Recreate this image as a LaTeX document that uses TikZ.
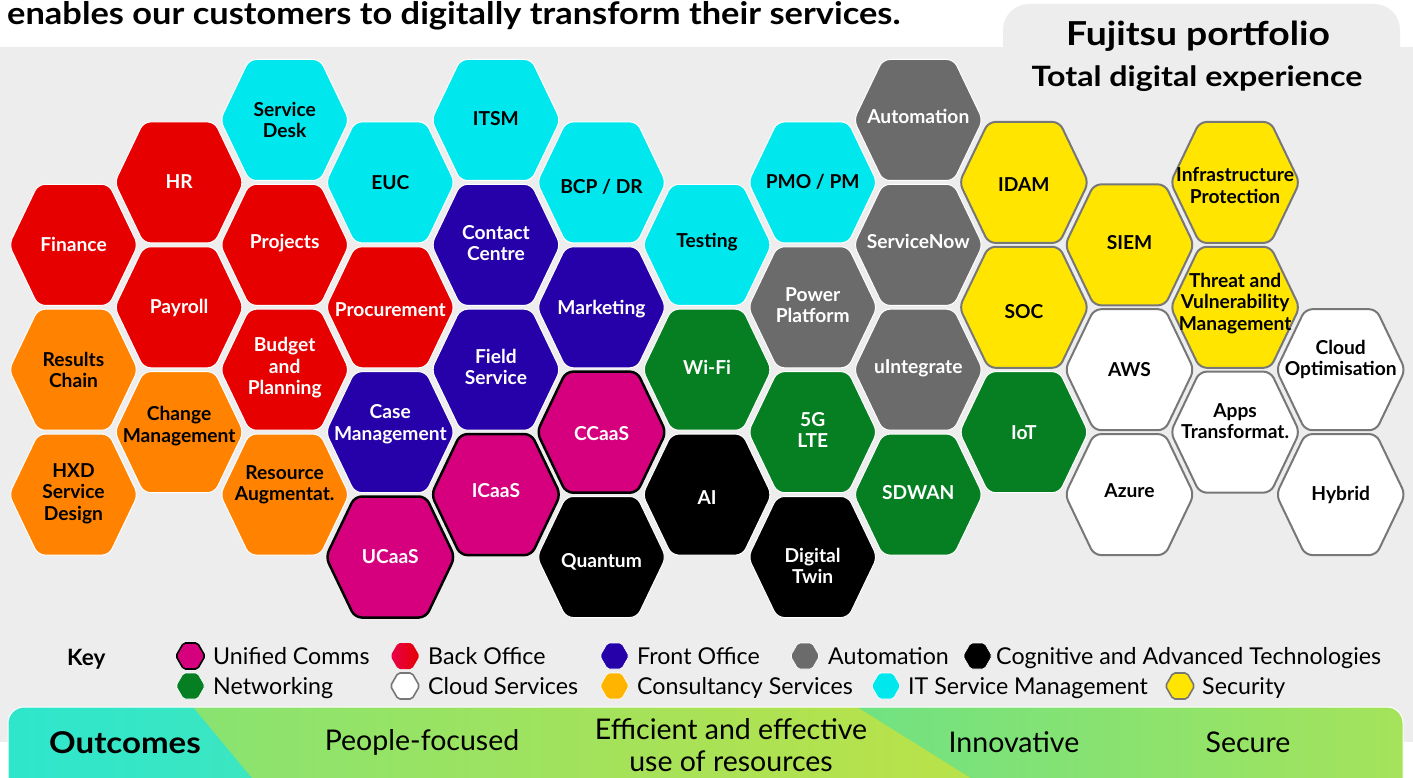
\documentclass[tikz,border=0pt]{standalone}
\usepackage{fontspec}
\setmainfont{Lato}
\definecolor{cBG}{HTML}{EDEDED}
\definecolor{cRed}{HTML}{E60000}
\definecolor{cCrimson}{HTML}{E8004A}
\definecolor{cCyan}{HTML}{00E8EE}
\definecolor{cIndigo}{HTML}{2600A8}
\definecolor{cMag}{HTML}{D6007F}
\definecolor{cGreen}{HTML}{067F23}
\definecolor{cGrey}{HTML}{6B6B6B}
\definecolor{cYellow}{HTML}{FFE500}
\definecolor{cOrange}{HTML}{FF8200}
\definecolor{cAmber}{HTML}{FFB400}
\definecolor{cBorder}{HTML}{777777}
\definecolor{cTurq}{HTML}{2EE6CC}
\definecolor{cTurqB}{HTML}{3DE6C0}
\definecolor{cLeaf}{HTML}{86E373}
\definecolor{cLime}{HTML}{B8E24A}
\definecolor{cMint}{HTML}{6FE283}
\definecolor{cLimeR}{HTML}{A6E35A}
\newcommand{\hexnode}[7]{%
  \path[hexbase,#3] ({73.5+105.6*#1-64.5},{120+62.43*#2}) -- ++(29,-60.5) -- ++(71,0) -- ++(29,60.5) -- ++(-29,60.5) -- ++(-71,0) -- cycle;
  \node[lbl,text=#4] (#5) at ({73.5+105.6*#1},{120+62.43*#2+#6}) {#7};}
\newcommand{\keyitem}[6]{%
  \path[keyhex,#3] ({#1-14.5},{#2}) -- ++(7.5,-13) -- ++(14,0) -- ++(7.5,13) -- ++(-7.5,13) -- ++(-14,0) -- cycle;
  \node[keytxt] (#4) at ({#5},{#2+8}) {#6};}
\begin{document}
\begin{tikzpicture}[x=1pt,y=-1pt,
  hexbase/.style={rounded corners=7pt},
  keyhex/.style={rounded corners=2pt},
  bo/.style={fill=cRed,draw=white,line width=1pt},
  boshade/.style={left color=cCrimson,right color=cRed,draw=none},
  itsm/.style={fill=cCyan,draw=white,line width=1pt},
  fo/.style={fill=cIndigo,draw=white,line width=1pt},
  uc/.style={fill=cMag,draw=black,line width=2.5pt},
  cog/.style={fill=black,draw=white,line width=1pt},
  net/.style={fill=cGreen,draw=white,line width=1pt},
  auto/.style={fill=cGrey,draw=white,line width=1pt},
  cons/.style={fill=cOrange,draw=white,line width=1pt},
  amber/.style={fill=cAmber,draw=white,line width=0.6pt},
  sec/.style={fill=cYellow,draw=cBorder,line width=2pt},
  cs/.style={fill=white,draw=cBorder,line width=2pt},
  lbl/.style={font=\bfseries\fontsize{19.2}{21.5}\selectfont, align=center, inner sep=0pt},
  keytxt/.style={font=\fontsize{23.2}{26}\selectfont, anchor=base west, inner sep=0pt},
  bartxt/.style={font=\fontsize{28.5}{31.5}\selectfont, align=center, inner sep=0pt},
]
\useasboundingbox (0,0) rectangle (1413,778);
\fill[white] (0,0) rectangle (1413,778);
% background
\fill[cBG] (0,47) rectangle (1413,742);
\fill[cBG,rounded corners=26pt] (1003,4) rectangle (1400,120);
% header
\node[anchor=base west,inner sep=0pt,font=\bfseries\fontsize{31}{36}\selectfont] (head) at (7,25) {\scalebox{1.11}[1]{enables our customers to digitally transform their services.}};
\node[font=\bfseries\fontsize{33}{36}\selectfont,inner sep=0pt] (fp) at (1198,36) {\scalebox{1.13}[1]{Fujitsu portfolio}};
\node[font=\bfseries\fontsize{28}{32}\selectfont,inner sep=0pt] (tde) at (1197,79) {\scalebox{1.15}[1]{Total digital experience}};
% hexagons
\hexnode{0}{2}{bo}{white}{finance}{0}{Finance}
\hexnode{0}{4}{cons}{black}{results}{0}{Results\\Chain}
\hexnode{0}{6}{cons}{black}{hxd}{-1}{HXD\\Service\\Design}
\hexnode{1}{1}{bo}{white}{hr}{-1}{HR}
\hexnode{1}{3}{bo}{white}{payroll}{1}{Payroll}
\hexnode{1}{5}{cons}{black}{change}{-6}{Change\\Management}
\hexnode{2}{0}{itsm}{black}{sdesk}{0}{Service\\Desk}
\hexnode{2}{2}{bo}{white}{projects}{-2}{Projects}
\hexnode{2}{4}{bo}{white}{budget}{-2}{Budget\\and\\Planning}
\hexnode{2}{6}{cons}{black}{resource}{-10}{Resource\\Augmentat.}
\hexnode{3}{1}{itsm}{black}{euc}{0}{EUC}
\hexnode{3}{3}{bo}{white}{procure}{2}{Procurement}
\hexnode{3}{5}{fo}{white}{casem}{-8}{Case\\Management}
\hexnode{3}{7}{uc}{white}{ucaas}{0}{UCaaS}
\hexnode{4}{0}{itsm}{black}{itsmn}{-1}{ITSM}
\hexnode{4}{2}{fo}{white}{contact}{-2}{Contact\\Centre}
\hexnode{4}{4}{fo}{white}{field}{-3}{Field\\Service}
\hexnode{4}{6}{uc}{white}{icaas}{-4}{ICaaS}
\hexnode{5}{1}{itsm}{black}{bcp}{4}{BCP / DR}
\hexnode{5}{3}{fo}{white}{marketing}{2}{Marketing}
\hexnode{5}{5}{uc}{white}{ccaas}{1}{CCaaS}
\hexnode{5}{7}{cog}{white}{quantum}{5}{Quantum}
\hexnode{6}{2}{itsm}{black}{testing}{-3}{Testing}
\hexnode{6}{4}{net}{white}{wifi}{-2}{Wi-Fi}
\hexnode{6}{6}{cog}{white}{ai}{3}{AI}
\hexnode{7}{1}{itsm}{black}{pmo}{-1}{PMO / PM}
\hexnode{7}{3}{auto}{white}{power}{-2}{Power\\Platform}
\hexnode{7}{5}{net}{white}{fiveg}{-2}{5G\\LTE}
\hexnode{7}{7}{cog}{white}{twin}{9}{Digital\\Twin}
\hexnode{8}{0}{auto}{white}{automation}{-4}{Automation}
\hexnode{8}{2}{auto}{white}{snow}{-3}{ServiceNow}
\hexnode{8}{4}{auto}{white}{uint}{-1}{uIntegrate}
\hexnode{8}{6}{net}{white}{sdwan}{-2}{SDWAN}
\hexnode{9}{1}{sec}{black}{idam}{2}{IDAM}
\hexnode{9}{3}{sec}{black}{soc}{4}{SOC}
\hexnode{9}{5}{net}{white}{iot}{0}{IoT}
\hexnode{10}{2}{sec}{black}{siem}{-2}{SIEM}
\hexnode{10}{4}{cs}{black}{aws}{0}{AWS}
\hexnode{10}{6}{cs}{black}{azure}{-4}{Azure}
\hexnode{11}{1}{sec}{black}{infra}{3}{Infrastructure\\Protection}
\hexnode{11}{3}{sec}{black}{threat}{-4}{Threat and\\Vulnerability\\Management}
\hexnode{11}{5}{cs}{black}{apps}{-11}{Apps\\Transformat.}
\hexnode{12}{4}{cs}{black}{cloudopt}{-10}{Cloud\\Optimisation}
\hexnode{12}{6}{cs}{black}{hybrid}{0}{Hybrid}
% key
\node[font=\bfseries\fontsize{22.5}{26}\selectfont,anchor=base west,inner sep=0pt] (key) at (67,665) {Key};
\keyitem{190.5}{656}{uc,line width=1.6pt}{kuc}{213}{Unified Comms}
\keyitem{405}{656}{boshade}{kbo}{428}{Back Office}
\keyitem{614.5}{656}{fo,line width=0.6pt}{kfo}{637}{Front Office}
\keyitem{805}{656}{auto,line width=0.6pt}{kauto}{828}{Automation}
\keyitem{977.5}{656}{cog,line width=0.6pt}{kcog}{996}{Cognitive and Advanced Technologies}
\keyitem{190.5}{686}{net,line width=0.6pt}{knet}{213}{Networking}
\keyitem{405}{686}{cs,line width=1.6pt}{kcs}{428}{Cloud Services}
\keyitem{614.5}{686}{amber}{kcons}{637}{Consultancy Services}
\keyitem{886}{686}{itsm,line width=0.6pt}{kitsm}{908}{IT Service Management}
\keyitem{1180}{686}{sec,line width=1.6pt}{ksec}{1202}{Security}
% outcomes bar
\begin{scope}
\clip[rounded corners=16pt] (8,707) rectangle (1403,810);
\shade[left color=cLeaf,right color=cLime] (150,700) rectangle (930,800);
\fill[cLime] (925,700) rectangle (1100,800);
\shade[left color=cTurq,right color=cTurqB] (0,700) -- (187,700) -- (270,800) -- (0,800) -- cycle;
\shade[left color=cMint,right color=cLimeR] (846,700) -- (1413,700) -- (1413,800) -- (1006,800) -- cycle;
\end{scope}
\draw[white,line width=1pt,rounded corners=16pt] (8,820) -- (8,707) -- (1403,707) -- (1403,820);
\node[font=\bfseries\fontsize{30}{35}\selectfont,inner sep=0pt] (outcomes) at (125,743) {\scalebox{1.1}[1]{Outcomes}};
\node[bartxt] (people) at (422,742) {People-focused};
\node[bartxt] (efficient) at (731,745) {Efficient and effective\\use of resources};
\node[bartxt] (innov) at (1014,742) {Innovative};
\node[bartxt] (secure) at (1248,742) {Secure};
\end{tikzpicture}
\end{document}
